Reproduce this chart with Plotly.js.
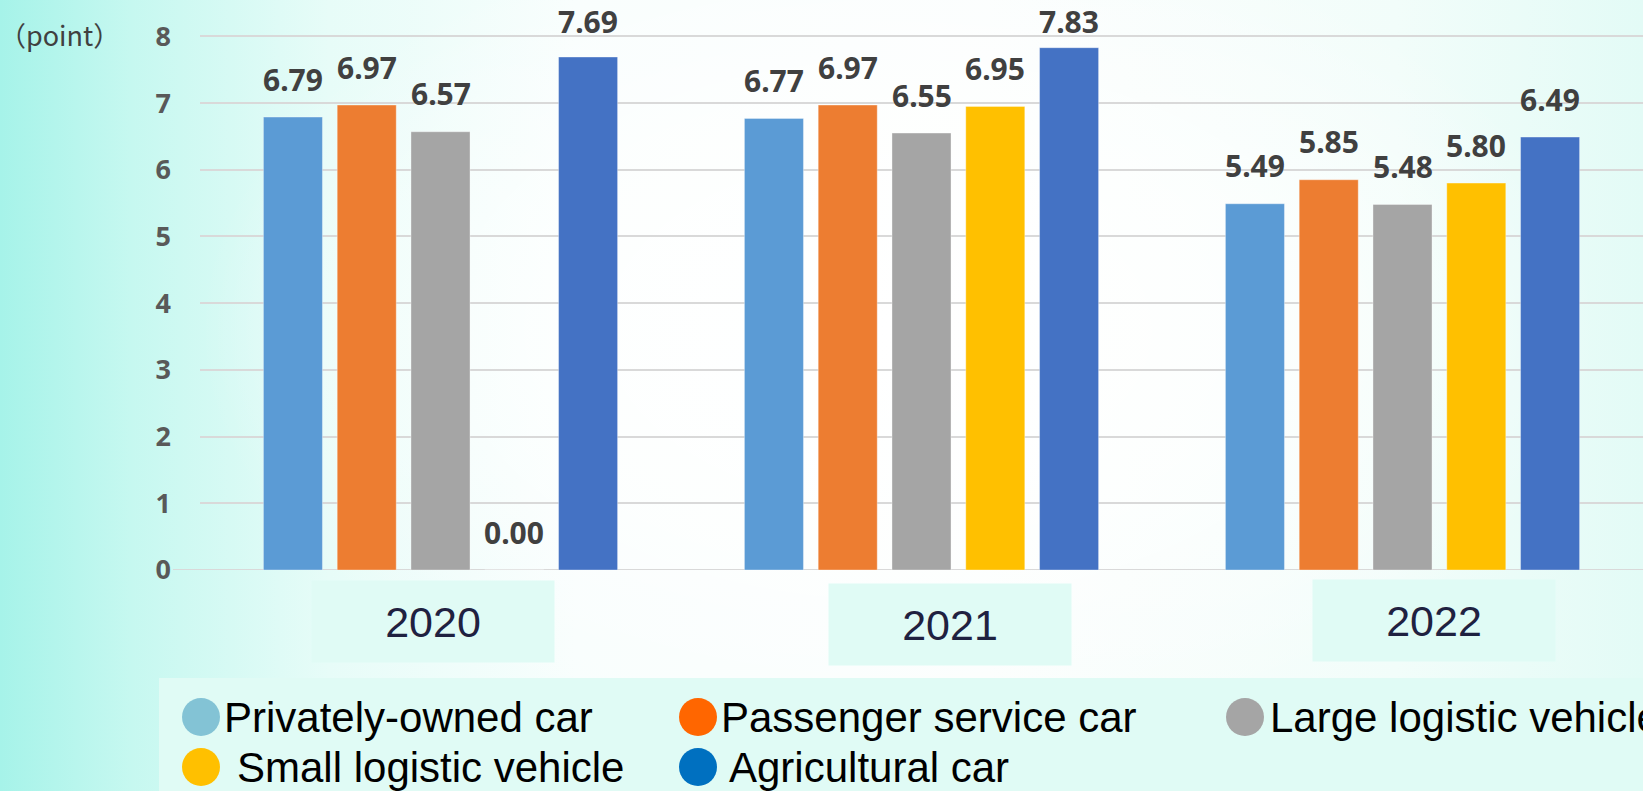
<!DOCTYPE html>
<html>
<head>
<meta charset="utf-8">
<script src="https://cdn.plot.ly/plotly-3.0.1.min.js"></script>
<style>
  html, body { margin:0; padding:0; width:1643px; height:791px; overflow:hidden; }
  body {
    background:
      radial-gradient(ellipse 700px 420px at 900px 330px, rgba(255,255,255,1) 0%, rgba(255,255,255,0.7) 50%, rgba(255,255,255,0) 100%),
      linear-gradient(90deg, #a6f3e9 0%, #c6f8f0 8%, #e7fcf8 20%, rgba(248,254,253,1) 35%, #fbfefd 60%, #f2fdfa 85%, #e3fbf6 100%);
  }
  #chart { width:1643px; height:791px; }
</style>
</head>
<body>
<div id="chart"></div>
<script>
// ---- data ----
const years = ['2020', '2021', '2022'];
const seriesNames = ['Privately-owned car', 'Passenger service car', 'Large logistic vehicle', 'Small logistic vehicle', 'Agricultural car'];
const privatelyOwned = [6.79, 6.77, 5.49];
const passengerService = [6.97, 6.97, 5.85];
const largeLogistic = [6.57, 6.55, 5.48];
const smallLogistic = [0.00, 6.95, 5.80];
const agricultural = [7.69, 7.83, 6.49];
const yTicks = [0, 1, 2, 3, 4, 5, 6, 7, 8];
const unitLabel = '（point）';

// ---- styles ----
const barColors = ['#5B9BD5', '#ED7D31', '#A5A5A5', '#FFC000', '#4472C4'];
const legendColors = ['#83C3D5', '#FF6600', '#A5A5A5', '#FFC000', '#0070C0'];
const seriesValues = [privatelyOwned, passengerService, largeLogistic, smallLogistic, agricultural];

const W = 1643, H = 791;
const mL = 200, mR = 0, mT = 3, mB = 221;
const plotW = W - mL - mR, plotH = H - mT - mB;
const Y_MAX = 8.5;
const unitPx = plotH / Y_MAX;
const px2paperX = px => (px - mL) / plotW;
const px2paperY = py => (H - mB - py) / plotH;

const BARGAP = 0.233, BARGROUPGAP = 0.2;
const nSeries = seriesNames.length;
const slot = (1 - BARGAP) / nSeries;

const traces = seriesNames.map((name, si) => ({
  type: 'bar',
  name: name,
  x: years,
  y: seriesValues[si],
  marker: { color: barColors[si], line: { color: 'rgba(255,255,255,0.35)', width: 1 } },
  showlegend: false,
  hoverinfo: 'skip'
}));

const annotations = [];
// value labels (kept inside the top edge)
const LABEL_SHIFT = 38, MIN_LABEL_CENTER = 22;
seriesValues.forEach((vals, si) => {
  vals.forEach((v, gi) => {
    const barTopPx = H - mB - v * unitPx;
    const shift = Math.min(LABEL_SHIFT, barTopPx - MIN_LABEL_CENTER);
    annotations.push({
      xref: 'x', yref: 'y',
      x: gi + (si - (nSeries - 1) / 2) * slot,
      y: v,
      yshift: shift,
      text: v.toFixed(2),
      showarrow: false,
      xanchor: 'center', yanchor: 'middle',
      font: { family: 'Noto Sans, sans-serif', size: 30, color: '#404040', weight: 'bold' }
    });
  });
});
// year labels in boxes
const yearShift = [-8, 28, 31];
const yearYShift = [-51, -54, -50];
years.forEach((yr, gi) => {
  annotations.push({
    xref: 'x', yref: 'paper',
    x: gi, y: 0,
    xshift: yearShift[gi], yshift: yearYShift[gi],
    text: yr,
    showarrow: false,
    width: 242, height: 81,
    bgcolor: '#E0FBF5',
    borderpad: 0,
    xanchor: 'center', yanchor: 'middle',
    font: { family: 'Liberation Sans, Arial, sans-serif', size: 43, color: '#1F2140' }
  });
});
// unit label
annotations.push({
  xref: 'paper', yref: 'paper',
  x: px2paperX(59), y: px2paperY(34),
  text: unitLabel, showarrow: false,
  xanchor: 'center', yanchor: 'middle',
  font: { family: 'Noto Sans CJK SC, Noto Sans, sans-serif', size: 27, color: '#404040' }
});

// custom legend
const legendPos = [[201, 717, 21], [698, 717, 21], [1245, 717, 23], [201, 767, 34], [698, 767, 29]];
const shapes = [];
shapes.push({
  type: 'rect', xref: 'paper', yref: 'paper', layer: 'below',
  x0: px2paperX(159), x1: px2paperX(1660),
  y0: px2paperY(678), y1: px2paperY(800),
  fillcolor: '#E0FBF5', line: { width: 0 }
});
// extended zero line
shapes.push({
  type: 'line', xref: 'paper', yref: 'y',
  x0: px2paperX(173), x1: 1, y0: 0, y1: 0,
  line: { color: '#D9D9D9', width: 2 }, layer: 'below'
});
seriesNames.forEach((name, si) => {
  const [cx, cy, tx] = legendPos[si];
  shapes.push({
    type: 'circle', xref: 'paper', yref: 'paper',
    xsizemode: 'pixel', ysizemode: 'pixel',
    xanchor: px2paperX(cx), yanchor: px2paperY(cy),
    x0: -19, x1: 19, y0: -19, y1: 19,
    fillcolor: legendColors[si], line: { width: 0 }
  });
  annotations.push({
    xref: 'paper', yref: 'paper',
    x: px2paperX(cx + tx), y: px2paperY(cy),
    text: name, showarrow: false,
    xanchor: 'left', yanchor: 'middle',
    font: { family: 'Liberation Sans, Arial, sans-serif', size: 42, color: '#000000' }
  });
});

const layout = {
  width: W, height: H,
  margin: { l: mL, r: mR, t: mT, b: mB, pad: 0 },
  paper_bgcolor: 'rgba(0,0,0,0)',
  plot_bgcolor: 'rgba(0,0,0,0)',
  barmode: 'group',
  bargap: BARGAP,
  bargroupgap: BARGROUPGAP,
  showlegend: false,
  xaxis: {
    type: 'category',
    range: [-0.5, 2.5],
    showticklabels: false,
    showgrid: false, zeroline: false, showline: false, ticks: ''
  },
  yaxis: {
    range: [0, Y_MAX],
    tickvals: yTicks,
    ticktext: yTicks.map(String),
    showgrid: true, gridcolor: '#D9D9D9', gridwidth: 2,
    zeroline: false, showline: false, ticks: '',
    ticklabelstandoff: 28,
    tickfont: { family: 'Noto Sans, sans-serif', size: 27, color: '#595959', weight: 'bold' }
  },
  annotations: annotations,
  shapes: shapes
};

Plotly.newPlot('chart', traces, layout, { displayModeBar: false, staticPlot: true });
</script>
</body>
</html>
